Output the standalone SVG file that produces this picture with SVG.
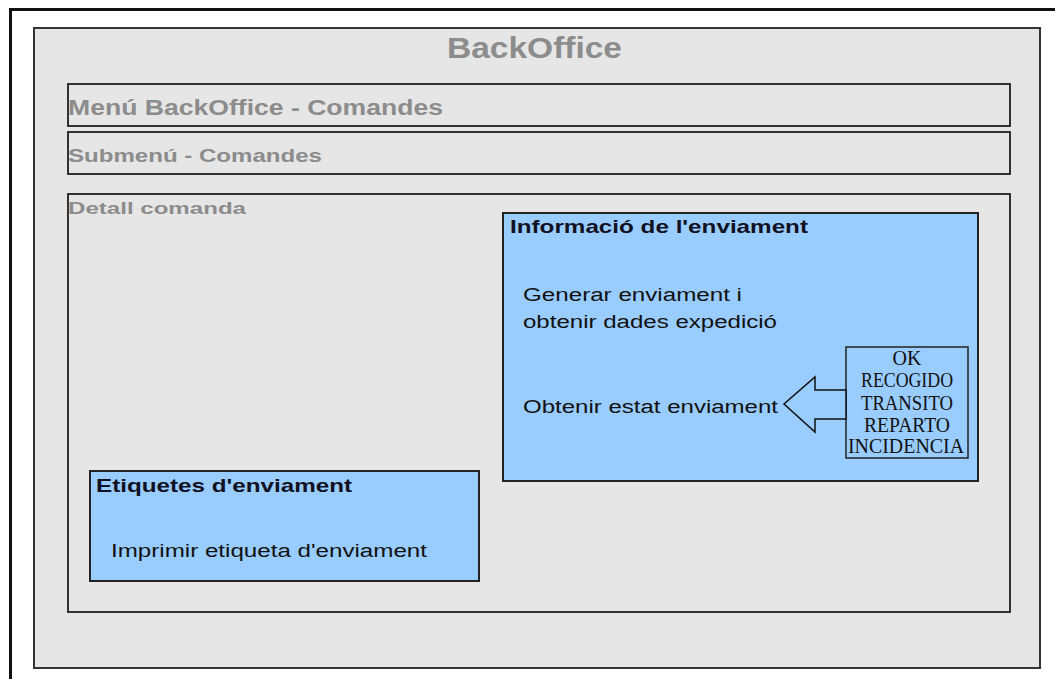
<svg xmlns="http://www.w3.org/2000/svg" width="1055" height="679" viewBox="0 0 1055 679">
<style>
.frame{fill:#e6e6e6;stroke:#333;stroke-width:2}
.blue{fill:#99ccff;stroke:#222;stroke-width:2}
.gt{font-family:"Liberation Sans",Arial,sans-serif;font-weight:bold;fill:#8c8c8c}
.bt{font-family:"Liberation Sans",Arial,sans-serif;font-weight:bold;fill:#111122}
.rt{font-family:"Liberation Sans",Arial,sans-serif;fill:#111;font-size:18px}
.st{font-family:"Liberation Serif","Times New Roman",serif;fill:#111;font-size:20px;text-anchor:middle}
</style>
<rect width="1055" height="679" fill="#ffffff"/>
<g id="outer-frame">
<path d="M10.5 679 V9.5 H1055" fill="none" stroke="#111" stroke-width="3"/>
</g>
<g id="backoffice">
<rect class="frame" x="34" y="28" width="1006" height="640"/>
<text class="gt" x="447" y="58" font-size="29" textLength="175" lengthAdjust="spacingAndGlyphs">BackOffice</text>
</g>
<g id="menu">
<rect class="frame" x="68" y="84" width="942" height="42"/>
<text class="gt" x="68" y="115" font-size="22" textLength="375" lengthAdjust="spacingAndGlyphs">Menú BackOffice - Comandes</text>
</g>
<g id="submenu">
<rect class="frame" x="68" y="132" width="942" height="42"/>
<text class="gt" x="68" y="162" font-size="19" textLength="254" lengthAdjust="spacingAndGlyphs">Submenú - Comandes</text>
</g>
<g id="detall">
<rect class="frame" x="68" y="194" width="942" height="418"/>
<text class="gt" x="68" y="214" font-size="17" textLength="178" lengthAdjust="spacingAndGlyphs" fill="#999">Detall comanda</text>
</g>
<g id="informacio">
<rect class="blue" x="503" y="213" width="475" height="268"/>
<text class="bt" x="510" y="233" font-size="19" textLength="298" lengthAdjust="spacingAndGlyphs">Informació de l'enviament</text>
<text class="rt" x="523" y="301" textLength="219" lengthAdjust="spacingAndGlyphs">Generar enviament i</text>
<text class="rt" x="523" y="328" textLength="254" lengthAdjust="spacingAndGlyphs">obtenir dades expedició</text>
<text class="rt" x="523" y="413" textLength="255" lengthAdjust="spacingAndGlyphs">Obtenir estat enviament</text>
</g>
<g id="estats">
<rect x="846" y="347" width="122" height="111" fill="#99ccff" stroke="#222" stroke-width="1.5"/>
<text class="st" x="907" y="365">OK</text>
<text class="st" x="907" y="387" textLength="92" lengthAdjust="spacingAndGlyphs">RECOGIDO</text>
<text class="st" x="907" y="410" textLength="92" lengthAdjust="spacingAndGlyphs">TRANSITO</text>
<text class="st" x="907" y="432" textLength="86" lengthAdjust="spacingAndGlyphs">REPARTO</text>
<text class="st" x="906" y="453" textLength="116" lengthAdjust="spacingAndGlyphs">INCIDENCIA</text>
</g>
<g id="connectors">
<polygon points="846,390 815,390 815,377 784,404 815,432 815,419 846,419" fill="#99ccff" stroke="#111" stroke-width="1.5" stroke-linejoin="miter"/>
</g>
<g id="etiquetes">
<rect class="blue" x="90" y="471" width="389" height="110"/>
<text class="bt" x="96" y="492" font-size="19" textLength="256" lengthAdjust="spacingAndGlyphs">Etiquetes d'enviament</text>
<text class="rt" x="111" y="557" textLength="316" lengthAdjust="spacingAndGlyphs">Imprimir etiqueta d'enviament</text>
</g>
</svg>
